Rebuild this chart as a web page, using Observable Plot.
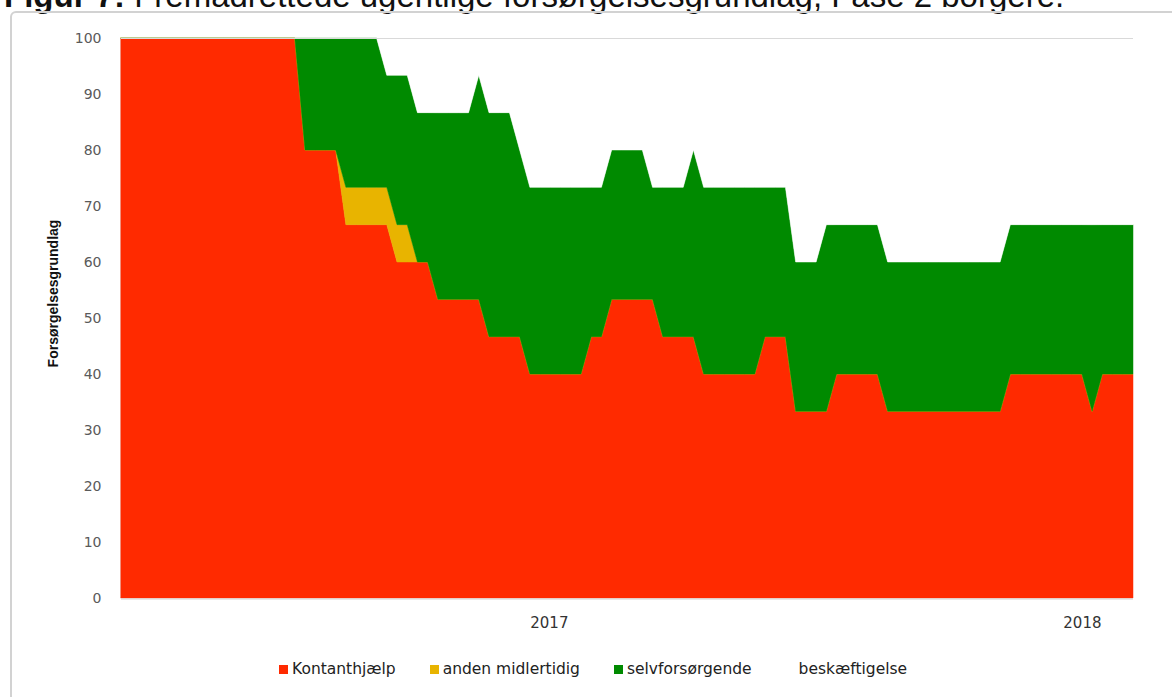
<!DOCTYPE html>
<html>
<head>
<meta charset="utf-8">
<script src="https://cdn.jsdelivr.net/npm/d3@7"></script>
<script src="https://cdn.jsdelivr.net/npm/@observablehq/plot@0.6"></script>
<style>
  html, body { margin: 0; padding: 0; background: #fff; }
  #page { position: relative; width: 1172px; height: 697px; overflow: hidden; background: #fff; }
  #title { position: absolute; left: 4px; top: -21px; font-family: "Liberation Sans", Arial, sans-serif; font-size: 33px; line-height: 33px; color: #111; white-space: nowrap; }
  #frame { position: absolute; left: 10px; top: 11px; width: 1190px; height: 720px; border: 2px solid #d2d2d2; border-radius: 6px; box-sizing: border-box; }
  #chart { position: absolute; left: 0; top: 0; }
  #legend { position: absolute; top: 660px; left: 279px; display: flex; align-items: center; font-family: "DejaVu Sans", sans-serif; font-size: 15.5px; color: #222; white-space: nowrap; }
  .item { display: flex; align-items: center; margin-right: 34px; }
  .sw { width: 9px; height: 9px; margin-right: 4px; display: inline-block; }
</style>
</head>
<body>
<div id="page">
  <div id="title"><b>Figur 7:</b> Fremadrettede ugentlige forsørgelsesgrundlag, Fase 2 borgere.</div>
  <div id="frame"></div>
  <div id="chart"></div>
  <div id="legend"></div>
</div>
<script>
// Series (stack order bottom to top)
const seriesNames = ["Kontanthjælp", "anden midlertidig", "selvforsørgende", "beskæftigelse"];
const seriesColors = ["#ff2a00", "#e8b400", "#008a00", "#ffffff"];

// Weekly observations, first week starting 2016-03-14, 100 weeks
const firstWeek = "2016-03-14";
const weekCount = 100;

const kontanthjaelp = [
  100,100,100,100,100,100,100,100,100,100,
  100,100,100,100,100,100,100,100,80,80,
  80,80,66.67,66.67,66.67,66.67,66.67,60,60,60,
  60,53.33,53.33,53.33,53.33,53.33,46.67,46.67,46.67,46.67,
  40,40,40,40,40,40,46.67,46.67,53.33,53.33,
  53.33,53.33,53.33,46.67,46.67,46.67,46.67,40,40,40,
  40,40,40,46.67,46.67,46.67,33.33,33.33,33.33,33.33,
  40,40,40,40,40,33.33,33.33,33.33,33.33,33.33,
  33.33,33.33,33.33,33.33,33.33,33.33,33.33,40,40,40,
  40,40,40,40,40,33.33,40,40,40,40
];
const andenMidlertidig = [
  0,0,0,0,0,0,0,0,0,0,
  0,0,0,0,0,0,0,0,0,0,
  0,0,6.67,6.67,6.67,6.67,6.67,6.67,6.67,0,
  0,0,0,0,0,0,0,0,0,0,
  0,0,0,0,0,0,0,0,0,0,
  0,0,0,0,0,0,0,0,0,0,
  0,0,0,0,0,0,0,0,0,0,
  0,0,0,0,0,0,0,0,0,0,
  0,0,0,0,0,0,0,0,0,0,
  0,0,0,0,0,0,0,0,0,0
];
const selvforsoergende = [
  0,0,0,0,0,0,0,0,0,0,
  0,0,0,0,0,0,0,0,20,20,
  20,20,26.67,26.67,26.67,26.67,20,26.67,26.67,26.67,
  26.67,33.33,33.33,33.33,33.33,40,40,40,40,33.33,
  33.33,33.33,33.33,33.33,33.33,33.33,26.67,26.67,26.67,26.67,
  26.67,26.67,20,26.67,26.67,26.67,33.33,33.33,33.33,33.33,
  33.33,33.33,33.33,26.67,26.67,26.67,26.67,26.67,26.67,33.33,
  26.67,26.67,26.67,26.67,26.67,26.67,26.67,26.67,26.67,26.67,
  26.67,26.67,26.67,26.67,26.67,26.67,26.67,26.67,26.67,26.67,
  26.67,26.67,26.67,26.67,26.67,33.33,26.67,26.67,26.67,26.67
];
const beskaeftigelse = [
  0,0,0,0,0,0,0,0,0,0,
  0,0,0,0,0,0,0,0,0,0,
  0,0,0,0,0,0,6.67,6.67,6.67,13.33,
  13.33,13.33,13.33,13.33,13.33,6.67,13.33,13.33,13.33,20,
  26.67,26.67,26.67,26.67,26.67,26.67,26.67,26.67,20,20,
  20,20,26.67,26.67,26.67,26.67,20,26.67,26.67,26.67,
  26.67,26.67,26.67,26.67,26.67,26.67,40,40,40,33.33,
  33.33,33.33,33.33,33.33,33.33,40,40,40,40,40,
  40,40,40,40,40,40,40,33.33,33.33,33.33,
  33.33,33.33,33.33,33.33,33.33,33.33,33.33,33.33,33.33,33.33
];

const yTicks = [0, 10, 20, 30, 40, 50, 60, 70, 80, 90, 100];
const xTickYears = ["2017-01-01", "2018-01-01"];
const yLabel = "Forsørgelsesgrundlag";

const start = new Date(firstWeek + "T00:00:00Z");
const dates = d3.range(weekCount).map(i => d3.utcDay.offset(start, 7 * i));
const seriesValues = [kontanthjaelp, andenMidlertidig, selvforsoergende, beskaeftigelse];
const data = [];
seriesNames.forEach((name, s) => {
  dates.forEach((d, i) => data.push({date: d, series: name, value: seriesValues[s][i]}));
});

const chart = Plot.plot({
  width: 1172,
  height: 640,
  marginLeft: 121,
  marginRight: 39,
  marginTop: 38,
  marginBottom: 42,
  style: {background: "transparent", overflow: "visible"},
  x: {type: "utc", domain: [dates[0], dates[dates.length - 1]]},
  y: {domain: [0, 100]},
  color: {domain: seriesNames, range: seriesColors},
  marks: [
    Plot.ruleX([dates[0]], {dx: -0.5, stroke: "#d0d0d0"}),
    Plot.areaY(data, {x: "date", y: "value", z: "series", fill: "series", stroke: "series", strokeWidth: 0.5, order: seriesNames, curve: "linear"}),
    Plot.ruleY([100], {stroke: "#d9d9d9", strokeWidth: 1.2}),
    Plot.ruleY([0], {stroke: "#d0d0d0", strokeWidth: 1.2, dy: 0.5}),
    Plot.axisY({ticks: yTicks, tickSize: 0, tickPadding: 20, label: null, fontSize: 14, fontFamily: "DejaVu Sans", fill: "#5a5a5a"}),
    Plot.axisX({ticks: xTickYears.map(s => new Date(s + "T00:00:00Z")), tickFormat: d3.utcFormat("%Y"), tickSize: 0, tickPadding: 19, label: null, fontSize: 15, fontFamily: "DejaVu Sans", fill: "#333"}),
    Plot.text([yLabel], {frameAnchor: "left", textAnchor: "middle", dx: -68, dy: -25, rotate: -90, fontSize: 14, fontWeight: "bold", fontFamily: "Liberation Sans, Arial, sans-serif", fill: "#111"})
  ]
});
document.getElementById("chart").appendChild(chart);

const legend = document.getElementById("legend");
seriesNames.forEach((name, i) => {
  const item = document.createElement("div");
  item.className = "item";
  const sw = document.createElement("span");
  sw.className = "sw";
  sw.style.background = seriesColors[i];
  item.appendChild(sw);
  const t = document.createElement("span");
  t.textContent = name;
  item.appendChild(t);
  legend.appendChild(item);
});
</script>
</body>
</html>
